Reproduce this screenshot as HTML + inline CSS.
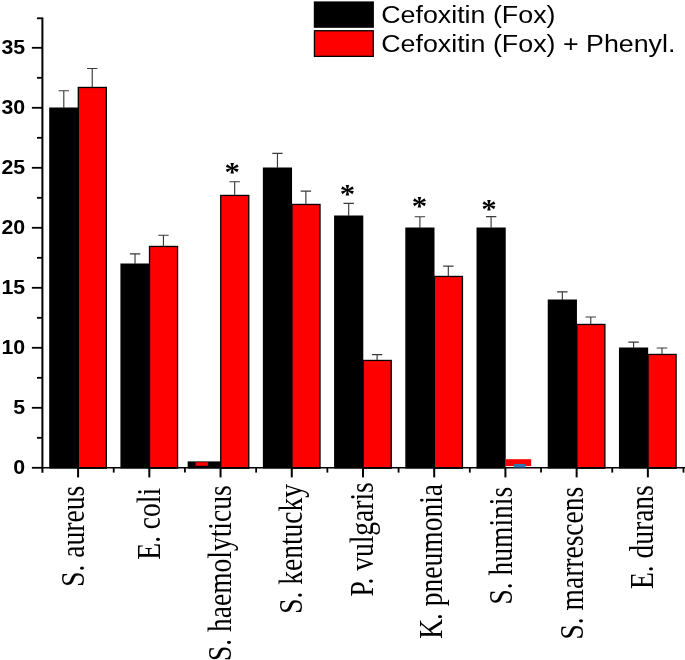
<!DOCTYPE html>
<html><head><meta charset="utf-8"><title>Chart</title>
<style>html,body{margin:0;padding:0;background:#fff;}svg{display:block;will-change:transform;}</style>
</head><body>
<svg width="685" height="660" viewBox="0 0 685 660">
<rect x="49.20" y="107.50" width="29.20" height="361.00" fill="#000"/>
<rect x="78.30" y="87.45" width="28.05" height="380.80" fill="#f00" stroke="#000" stroke-width="1.3"/>
<rect x="120.42" y="263.50" width="29.20" height="205.00" fill="#000"/>
<rect x="149.52" y="246.45" width="28.05" height="221.80" fill="#f00" stroke="#000" stroke-width="1.3"/>
<rect x="187.64" y="461.4" width="33.2" height="7.10" fill="#000"/>
<rect x="195.64" y="462.2" width="12.4" height="3.6" fill="#f00"/>
<rect x="220.74" y="195.45" width="28.05" height="272.80" fill="#f00" stroke="#000" stroke-width="1.3"/>
<rect x="262.86" y="167.50" width="29.20" height="301.00" fill="#000"/>
<rect x="291.96" y="204.45" width="28.05" height="263.80" fill="#f00" stroke="#000" stroke-width="1.3"/>
<rect x="334.08" y="215.50" width="29.20" height="253.00" fill="#000"/>
<rect x="363.18" y="360.45" width="28.05" height="107.80" fill="#f00" stroke="#000" stroke-width="1.3"/>
<rect x="405.30" y="227.50" width="29.20" height="241.00" fill="#000"/>
<rect x="434.40" y="276.45" width="28.05" height="191.80" fill="#f00" stroke="#000" stroke-width="1.3"/>
<rect x="476.52" y="227.50" width="29.20" height="241.00" fill="#000"/>
<rect x="505.72" y="459.2" width="25.4" height="6.9" fill="#f00"/>
<rect x="547.74" y="299.50" width="29.20" height="169.00" fill="#000"/>
<rect x="576.84" y="324.45" width="28.05" height="143.80" fill="#f00" stroke="#000" stroke-width="1.3"/>
<rect x="618.96" y="347.50" width="29.20" height="121.00" fill="#000"/>
<rect x="648.06" y="354.45" width="28.05" height="113.80" fill="#f00" stroke="#000" stroke-width="1.3"/>
<path d="M63.80 108.00V90.75M58.60 90.75H69.00" stroke="#3a3a3a" stroke-width="1.15" fill="none"/>
<path d="M92.23 87.00V68.47M87.03 68.47H97.43" stroke="#3a3a3a" stroke-width="1.15" fill="none"/>
<path d="M135.02 264.00V253.85M129.82 253.85H140.22" stroke="#3a3a3a" stroke-width="1.15" fill="none"/>
<path d="M163.45 246.00V235.29M158.25 235.29H168.65" stroke="#3a3a3a" stroke-width="1.15" fill="none"/>
<path d="M234.67 195.00V181.76M229.47 181.76H239.87" stroke="#3a3a3a" stroke-width="1.15" fill="none"/>
<path d="M277.46 168.00V153.38M272.26 153.38H282.66" stroke="#3a3a3a" stroke-width="1.15" fill="none"/>
<path d="M305.88 204.00V191.10M300.69 191.10H311.08" stroke="#3a3a3a" stroke-width="1.15" fill="none"/>
<path d="M348.68 216.00V203.43M343.48 203.43H353.88" stroke="#3a3a3a" stroke-width="1.15" fill="none"/>
<path d="M377.10 360.00V354.68M371.90 354.68H382.30" stroke="#3a3a3a" stroke-width="1.15" fill="none"/>
<path d="M419.90 228.00V216.72M414.70 216.72H425.10" stroke="#3a3a3a" stroke-width="1.15" fill="none"/>
<path d="M448.32 276.00V266.18M443.12 266.18H453.52" stroke="#3a3a3a" stroke-width="1.15" fill="none"/>
<path d="M491.12 228.00V216.60M485.92 216.60H496.32" stroke="#3a3a3a" stroke-width="1.15" fill="none"/>
<path d="M562.34 300.00V291.93M557.14 291.93H567.54" stroke="#3a3a3a" stroke-width="1.15" fill="none"/>
<path d="M590.76 324.00V316.95M585.56 316.95H595.96" stroke="#3a3a3a" stroke-width="1.15" fill="none"/>
<path d="M633.56 348.00V342.10M628.36 342.10H638.76" stroke="#3a3a3a" stroke-width="1.15" fill="none"/>
<path d="M661.98 354.00V347.97M656.78 347.97H667.18" stroke="#3a3a3a" stroke-width="1.15" fill="none"/>
<path d="M42.4 17.4V472.7" stroke="#000" stroke-width="2" fill="none"/>
<path d="M42.5 467.8H685" stroke="#000" stroke-width="1.6" fill="none"/>
<rect x="513.92" y="463.9" width="11.6" height="3.6" fill="#2e75b6"/>
<path d="M31.9 467.80H42.5" stroke="#000" stroke-width="1.8"/>
<path d="M37 437.80H42.5" stroke="#000" stroke-width="1.8"/>
<path d="M31.9 407.80H42.5" stroke="#000" stroke-width="1.8"/>
<path d="M37 377.80H42.5" stroke="#000" stroke-width="1.8"/>
<path d="M31.9 347.80H42.5" stroke="#000" stroke-width="1.8"/>
<path d="M37 317.80H42.5" stroke="#000" stroke-width="1.8"/>
<path d="M31.9 287.80H42.5" stroke="#000" stroke-width="1.8"/>
<path d="M37 257.80H42.5" stroke="#000" stroke-width="1.8"/>
<path d="M31.9 227.80H42.5" stroke="#000" stroke-width="1.8"/>
<path d="M37 197.80H42.5" stroke="#000" stroke-width="1.8"/>
<path d="M31.9 167.80H42.5" stroke="#000" stroke-width="1.8"/>
<path d="M37 137.80H42.5" stroke="#000" stroke-width="1.8"/>
<path d="M31.9 107.80H42.5" stroke="#000" stroke-width="1.8"/>
<path d="M37 77.80H42.5" stroke="#000" stroke-width="1.8"/>
<path d="M31.9 47.80H42.5" stroke="#000" stroke-width="1.8"/>
<path d="M37 18.30H42.5" stroke="#000" stroke-width="1.8"/>
<path d="M78.10 467.8V477.4" stroke="#000" stroke-width="2"/>
<path d="M113.71 467.8V472.6" stroke="#000" stroke-width="1.8"/>
<path d="M149.32 467.8V477.4" stroke="#000" stroke-width="2"/>
<path d="M184.93 467.8V472.6" stroke="#000" stroke-width="1.8"/>
<path d="M220.54 467.8V477.4" stroke="#000" stroke-width="2"/>
<path d="M256.15 467.8V472.6" stroke="#000" stroke-width="1.8"/>
<path d="M291.76 467.8V477.4" stroke="#000" stroke-width="2"/>
<path d="M327.37 467.8V472.6" stroke="#000" stroke-width="1.8"/>
<path d="M362.98 467.8V477.4" stroke="#000" stroke-width="2"/>
<path d="M398.59 467.8V472.6" stroke="#000" stroke-width="1.8"/>
<path d="M434.20 467.8V477.4" stroke="#000" stroke-width="2"/>
<path d="M469.81 467.8V472.6" stroke="#000" stroke-width="1.8"/>
<path d="M505.42 467.8V477.4" stroke="#000" stroke-width="2"/>
<path d="M541.03 467.8V472.6" stroke="#000" stroke-width="1.8"/>
<path d="M576.64 467.8V477.4" stroke="#000" stroke-width="2"/>
<path d="M612.25 467.8V472.6" stroke="#000" stroke-width="1.8"/>
<path d="M647.86 467.8V477.4" stroke="#000" stroke-width="2"/>
<path d="M683.47 467.8V472.6" stroke="#000" stroke-width="1.8"/>
<text transform="translate(25.2 474.20) scale(1.04 1)" text-anchor="end" font-family="Liberation Sans, sans-serif" font-weight="bold" font-size="20.5">0</text>
<text transform="translate(25.2 414.20) scale(1.04 1)" text-anchor="end" font-family="Liberation Sans, sans-serif" font-weight="bold" font-size="20.5">5</text>
<text transform="translate(25.2 354.20) scale(1.04 1)" text-anchor="end" font-family="Liberation Sans, sans-serif" font-weight="bold" font-size="20.5">10</text>
<text transform="translate(25.2 294.20) scale(1.04 1)" text-anchor="end" font-family="Liberation Sans, sans-serif" font-weight="bold" font-size="20.5">15</text>
<text transform="translate(25.2 234.20) scale(1.04 1)" text-anchor="end" font-family="Liberation Sans, sans-serif" font-weight="bold" font-size="20.5">20</text>
<text transform="translate(25.2 174.20) scale(1.04 1)" text-anchor="end" font-family="Liberation Sans, sans-serif" font-weight="bold" font-size="20.5">25</text>
<text transform="translate(25.2 114.20) scale(1.04 1)" text-anchor="end" font-family="Liberation Sans, sans-serif" font-weight="bold" font-size="20.5">30</text>
<text transform="translate(25.2 54.20) scale(1.04 1)" text-anchor="end" font-family="Liberation Sans, sans-serif" font-weight="bold" font-size="20.5">35</text>
<text transform="translate(232.1 181.30) scale(1.14 1)" text-anchor="middle" font-family="Liberation Serif, serif" font-weight="bold" font-size="27">*</text>
<text transform="translate(347.4 203.40) scale(1.14 1)" text-anchor="middle" font-family="Liberation Serif, serif" font-weight="bold" font-size="27">*</text>
<text transform="translate(419.5 214.80) scale(1.14 1)" text-anchor="middle" font-family="Liberation Serif, serif" font-weight="bold" font-size="27">*</text>
<text transform="translate(489 218.30) scale(1.14 1)" text-anchor="middle" font-family="Liberation Serif, serif" font-weight="bold" font-size="27">*</text>
<text transform="translate(84.20 485.90) rotate(-90) scale(1 1.26)" text-anchor="end" font-family="Liberation Serif, serif" font-size="27.5">S. aureus</text>
<text transform="translate(160.02 487.90) rotate(-90) scale(1 1.26)" text-anchor="end" font-family="Liberation Serif, serif" font-size="27.5">E. coli</text>
<text transform="translate(231.24 485.40) rotate(-90) scale(1 1.26)" text-anchor="end" font-family="Liberation Serif, serif" font-size="27.5">S. haemolyticus</text>
<text transform="translate(302.06 484.00) rotate(-90) scale(1 1.26)" text-anchor="end" font-family="Liberation Serif, serif" font-size="27.5">S. kentucky</text>
<text transform="translate(372.68 482.20) rotate(-90) scale(1 1.26)" text-anchor="end" font-family="Liberation Serif, serif" font-size="27.5">P<tspan dx="-3.2">. vulgaris</tspan></text>
<text transform="translate(442.30 484.00) rotate(-90) scale(1 1.26)" text-anchor="end" font-family="Liberation Serif, serif" font-size="27.5">K<tspan dx="-1">. pneumonia</tspan></text>
<text transform="translate(511.62 486.80) rotate(-90) scale(1 1.26)" text-anchor="end" font-family="Liberation Serif, serif" font-size="27.5">S. huminis</text>
<text transform="translate(583.44 486.80) rotate(-90) scale(1 1.26)" text-anchor="end" font-family="Liberation Serif, serif" font-size="27.5">S. marrescens</text>
<text transform="translate(652.96 485.20) rotate(-90) scale(1 1.26)" text-anchor="end" font-family="Liberation Serif, serif" font-size="27.5">E. durans</text>
<rect x="313.8" y="1.4" width="60.1" height="26.4" fill="#000"/>
<rect x="314.45" y="30.75" width="58.8" height="25.6" fill="#f00" stroke="#000" stroke-width="1.3"/>
<text transform="translate(381.2 22.7) scale(1.166 1)" font-family="Liberation Sans, sans-serif" font-size="23">Cefoxitin (Fox)</text>
<text transform="translate(381.2 51.5) scale(1.166 1)" font-family="Liberation Sans, sans-serif" font-size="23">Cefoxitin (Fox) + Phenyl.</text>
</svg>
</body></html>
